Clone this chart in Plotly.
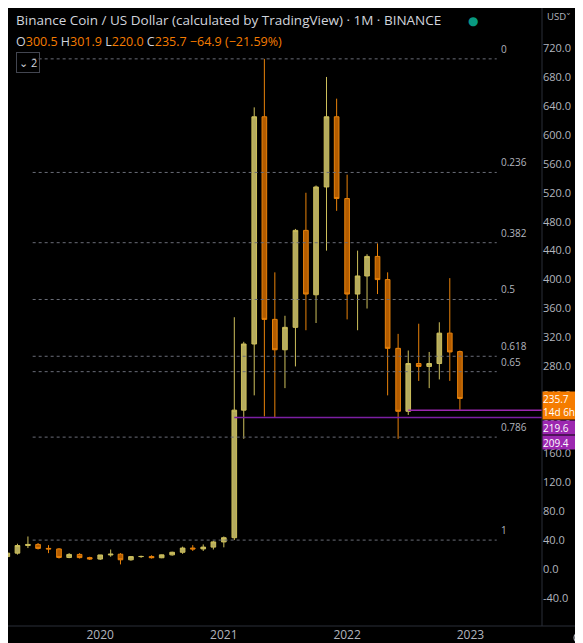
import plotly.graph_objects as go

dates = ["2019-04-01","2019-05-01","2019-06-01","2019-07-01","2019-08-01","2019-09-01","2019-10-01","2019-11-01","2019-12-01",
         "2020-01-01","2020-02-01","2020-03-01","2020-04-01","2020-05-01","2020-06-01","2020-07-01","2020-08-01","2020-09-01",
         "2020-10-01","2020-11-01","2020-12-01","2021-01-01","2021-02-01","2021-03-01","2021-04-01","2021-05-01","2021-06-01",
         "2021-07-01","2021-08-01","2021-09-01","2021-10-01","2021-11-01","2021-12-01","2022-01-01","2022-02-01","2022-03-01",
         "2022-04-01","2022-05-01","2022-06-01","2022-07-01","2022-08-01","2022-09-01","2022-10-01","2022-11-01","2022-12-01"]
opens  = [17.2,22.0,32.5,34.0,28.5,27.8,16.0,20.2,15.8,13.8,19.5,20.5,12.8,17.2,17.4,15.6,19.6,23.2,29.0,27.8,30.3,37.5,43.3,219.6,311.0,625.0,345.0,303.0,334.0,468.0,379.0,528.0,625.0,512.0,380.0,405.0,432.0,400.0,305.0,218.0,284.0,280.0,284.0,326.0,300.5]
highs  = [26.0,35.0,45.0,36.0,33.0,29.0,22.0,22.0,17.0,19.0,27.0,22.0,18.0,18.5,19.0,20.0,24.0,31.0,33.0,34.0,39.0,45.0,348.0,314.0,638.0,705.0,410.0,350.0,470.0,520.0,530.0,680.0,650.0,545.0,440.0,435.0,450.0,410.0,325.0,302.0,339.0,300.0,341.0,402.0,301.9]
lows   = [15.0,20.0,29.0,27.0,22.0,14.5,15.0,14.5,12.5,12.5,17.0,6.4,11.5,15.5,14.5,15.0,18.5,21.0,25.0,25.0,27.0,30.0,40.0,180.0,240.0,211.0,210.0,250.0,280.0,330.0,340.0,440.0,495.0,345.0,330.0,360.0,380.0,240.0,180.0,213.0,260.0,250.0,262.0,260.0,220.0]
closes = [22.0,32.5,34.0,28.5,27.8,16.0,20.2,15.8,13.8,19.5,20.5,12.8,17.2,17.4,15.6,19.6,23.2,29.0,27.8,30.3,37.5,43.3,219.6,311.0,625.0,345.0,303.0,334.0,468.0,380.0,528.0,625.0,512.0,380.0,405.0,432.0,400.0,305.0,218.0,284.0,280.0,284.0,326.0,300.0,235.7]

fib_high, fib_low = 705.0, 40.0
fib_levels = [0, 0.236, 0.382, 0.5, 0.618, 0.65, 0.786, 1]
fib_labels = ["0", "0.236", "0.382", "0.5", "0.618", "0.65", "0.786", "1"]
ytick_vals = list(range(-40, 721, 40))
hlines = [("2022-07-01", 219.6, "#9c27b0"), ("2021-02-01", 209.4, "#7b1fa2")]

BULL, BEAR = "#b5ab5e", "#b35c00"
fig = go.Figure(go.Candlestick(
    x=dates, open=opens, high=highs, low=lows, close=closes, whiskerwidth=0,
    increasing=dict(fillcolor=BULL, line=dict(color="#cdbf5c", width=1)),
    decreasing=dict(fillcolor=BEAR, line=dict(color="#e8820a", width=1)),
    showlegend=False, hoverinfo="skip"))

shapes, ann = [], []
for lv, lb in zip(fib_levels, fib_labels):
    v = fib_high - lv * (fib_high - fib_low)
    shapes.append(dict(type="line", xref="x", yref="y", x0="2019-06-15", x1="2023-03-20", y0=v, y1=v,
                       line=dict(color="#6a6d78", width=1, dash="dot")))
    ann.append(dict(xref="x", yref="y", x="2023-03-28", y=v, text=lb, showarrow=False, xanchor="left",
                    yanchor="bottom", yshift=1, font=dict(color="#b2b5be", size=10)))
for d, v, c in hlines:
    shapes.append(dict(type="line", xref="x", yref="y", x0=d, x1="2023-08-01", y0=v, y1=v,
                       line=dict(color=c, width=1.5)))
shapes.append(dict(type="line", xref="paper", yref="paper", x0=1, x1=1, y0=0, y1=1.1, line=dict(color="#2a2e39", width=1)))
shapes.append(dict(type="line", xref="paper", yref="paper", x0=0, x1=1.1, y0=0, y1=0, line=dict(color="#2a2e39", width=1)))
# small gear-like marker in bottom-right corner
shapes.append(dict(type="circle", xref="paper", yref="paper", x0=1.06, x1=1.078, y0=-0.027, y1=-0.011,
                   line=dict(color="#b2b5be", width=1.2)))

def price_box(v, text, bg, h):
    ann.append(dict(xref="paper", yref="y", x=1, y=v, text=text, showarrow=False, xanchor="left", yanchor="middle",
                    bgcolor=bg, width=46, height=h, align="left", borderpad=0,
                    font=dict(color="white", size=10)))
price_box(225.5, "235.7<br>14d 6h", "#f57c00", 27)
price_box(195.5, "219.6", "#9c27b0", 13)
price_box(175.0, "209.4", "#9c27b0", 13)

ann += [
    dict(xref="paper", yref="paper", x=0.012, y=0.998, xanchor="left", yanchor="top", showarrow=False,
         text="Binance Coin / US Dollar (calculated by TradingView) · 1M · BINANCE", font=dict(color="#d1d4dc", size=13.5)),
    dict(xref="paper", yref="paper", x=0.012, y=0.962, xanchor="left", yanchor="top", showarrow=False,
         text="<span style='color:#d1d4dc'>O</span>300.5 <span style='color:#d1d4dc'>H</span>301.9 "
              "<span style='color:#d1d4dc'>L</span>220.0 <span style='color:#d1d4dc'>C</span>235.7 −64.9 (−21.59%)",
         font=dict(color="#f57c00", size=12.5)),
    dict(xref="paper", yref="paper", x=0.015, y=0.928, xanchor="left", yanchor="top", showarrow=False,
         text="⌄ 2", bordercolor="#434651", borderwidth=1, borderpad=2, font=dict(color="#d1d4dc", size=11)),
    dict(xref="paper", yref="paper", x=0.87, y=0.996, xanchor="center", yanchor="top", showarrow=False,
         text="●", font=dict(color="#089981", size=12)),
    dict(xref="paper", yref="paper", x=1.058, y=1.0, xanchor="right", yanchor="top", showarrow=False,
         text="USD˅", font=dict(color="#b2b5be", size=9.5)),
]

fig.update_layout(
    width=583, height=643, margin=dict(l=0, r=49, t=0, b=25),
    paper_bgcolor="#000000", plot_bgcolor="#000000",
    font=dict(family="Open Sans, DejaVu Sans", color="#b2b5be"),
    shapes=shapes, annotations=ann,
    xaxis=dict(type="date", range=["2019-04-03", "2023-08-01"], rangeslider=dict(visible=False),
               showgrid=False, zeroline=False, tickformat="%Y", dtick="M12", tick0="2020-01-01",
               tickfont=dict(color="#b2b5be", size=12), ticks="", showline=False),
    yaxis=dict(side="right", range=[-78.7, 775.3], tickvals=ytick_vals,
               ticktext=[f"{v:.1f}" for v in ytick_vals], showgrid=False, zeroline=False,
               tickfont=dict(color="#b2b5be", size=11), ticks="", showline=False),
)
fig.write_html("out.html")
